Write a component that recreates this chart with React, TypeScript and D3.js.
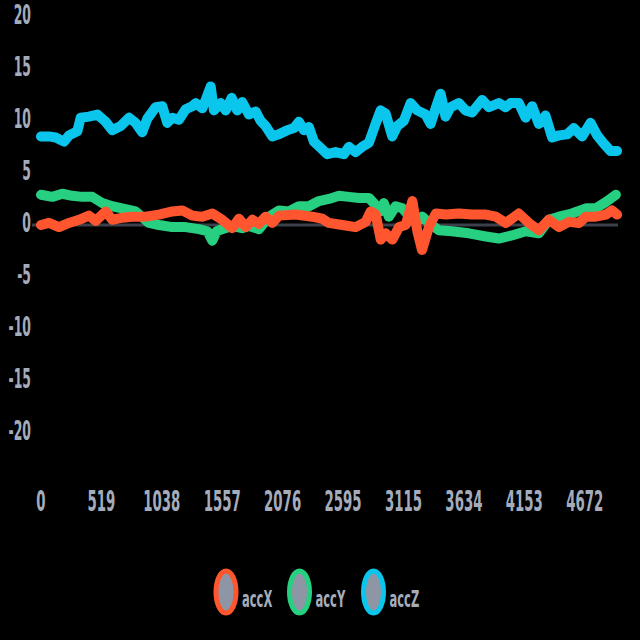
import React from "react";
import * as d3 from "d3";

const xTicks = [0, 519, 1038, 1557, 2076, 2595, 3115, 3634, 4153, 4672];
const yTicks = [20, 15, 10, 5, 0, -5, -10, -15, -20];
const seriesNames = ["accX", "accY", "accZ"];
const seriesColors = ["#ff5630", "#27cf80", "#0bc6ec"];

// [sample index, value]
const accX: [number, number][] = [
  [0, 0.0], [69, 0.2], [155, -0.2], [241, 0.2], [327, 0.5], [412, 0.9], [470, 0.4], [556, 1.3],
  [612, 0.5], [698, 0.7], [784, 0.8], [899, 0.8], [1014, 1.0], [1128, 1.3], [1214, 1.4], [1300, 0.9],
  [1386, 0.8], [1472, 1.1], [1557, 0.5], [1643, -0.3], [1701, 0.6], [1759, -0.2], [1816, 0.5],
  [1873, 0.1], [1930, 0.8], [1987, 0.2], [2045, 0.9], [2188, 1.0], [2331, 0.8], [2417, 0.6],
  [2474, 0.2], [2589, 0.0], [2704, -0.2], [2790, 0.3], [2833, 1.3], [2876, 1.0], [2919, -1.4],
  [2962, -0.8], [3019, -1.4], [3076, -0.2], [3134, 0.0], [3191, 2.3], [3234, -0.6], [3274, -2.4],
  [3333, -0.2], [3393, 1.1], [3479, 1.0], [3591, 1.1], [3703, 1.0], [3823, 1.0], [3909, 0.8],
  [3995, 0.2], [4106, 1.1], [4192, 0.2], [4278, -0.5], [4364, 0.5], [4450, -0.2], [4536, 0.3],
  [4622, 0.2], [4682, 0.8], [4768, 0.8], [4854, 1.0], [4906, 1.4], [4950, 1.0],
];

const accY: [number, number][] = [
  [0, 2.9], [97, 2.7], [183, 3.0], [269, 2.8], [355, 2.7], [441, 2.7], [527, 2.1], [612, 1.8],
  [698, 1.6], [813, 1.3], [928, 0.2], [1014, 0.0], [1128, -0.2], [1243, -0.2], [1357, -0.4],
  [1430, -0.6], [1472, -1.5], [1510, -0.6], [1557, -0.4], [1643, -0.1], [1729, -0.3], [1787, -0.1],
  [1873, -0.4], [1959, 0.8], [2045, 1.4], [2131, 1.3], [2216, 1.8], [2302, 1.8], [2388, 2.3],
  [2474, 2.5], [2560, 2.8], [2646, 2.7], [2732, 2.6], [2818, 2.6], [2875, 1.9], [2918, 1.3],
  [2946, 2.1], [2989, 0.8], [3047, 1.8], [3105, 1.6], [3162, 0.9], [3219, 0.3], [3276, 0.8],
  [3333, 0.2], [3419, -0.5], [3530, -0.6], [3677, -0.8], [3823, -1.1], [3934, -1.3], [4046, -1.0],
  [4166, -0.6], [4278, -0.8], [4364, 0.5], [4450, 0.8], [4561, 1.1], [4682, 1.6], [4768, 1.6],
  [4854, 2.2], [4940, 2.9],
];

const accZ: [number, number][] = [
  [0, 8.5], [69, 8.5], [126, 8.4], [198, 8.0], [241, 8.6], [312, 9.0], [341, 10.3], [412, 10.4],
  [484, 10.6], [556, 9.9], [612, 9.1], [685, 9.5], [756, 10.3], [813, 9.8], [870, 8.9], [913, 10.2],
  [985, 11.3], [1042, 11.4], [1085, 9.8], [1128, 10.3], [1185, 10.1], [1243, 11.1], [1300, 11.4],
  [1329, 11.7], [1386, 11.2], [1415, 12.0], [1458, 13.3], [1486, 11.0], [1544, 11.7], [1587, 11.0],
  [1638, 12.2], [1686, 11.0], [1729, 11.8], [1787, 10.6], [1844, 10.9], [1887, 10.0], [1930, 9.5],
  [1987, 8.5], [2044, 8.7], [2116, 9.1], [2173, 9.3], [2216, 9.9], [2259, 9.1], [2302, 9.4],
  [2345, 8.0], [2403, 7.4], [2459, 6.8], [2531, 7.0], [2603, 6.8], [2646, 7.5], [2703, 7.0],
  [2760, 7.5], [2818, 7.9], [2875, 9.7], [2918, 11.0], [2961, 10.7], [3018, 8.5], [3061, 9.5],
  [3118, 10.0], [3176, 11.7], [3233, 11.0], [3305, 10.6], [3348, 9.7], [3391, 11.2], [3434, 12.6],
  [3476, 10.4], [3519, 11.3], [3591, 11.7], [3648, 11.0], [3705, 10.8], [3791, 12.0], [3848, 11.3],
  [3934, 11.7], [3992, 11.3], [4035, 11.7], [4106, 11.7], [4164, 10.3], [4220, 11.4], [4278, 9.7],
  [4335, 10.5], [4392, 8.4], [4450, 8.6], [4521, 8.7], [4578, 9.3], [4650, 8.5], [4722, 9.8],
  [4779, 8.6], [4836, 7.8], [4894, 7.1], [4950, 7.1],
];

const W = 640;
const H = 640;
const SX = 0.46; // horizontal squeeze of the glyphs

export default function App() {
  const x = d3.scaleLinear().domain([0, 519]).range([41, 101.4]);
  const y = d3.scaleLinear().domain([0, 20]).range([225, 16.6]);
  const line = d3
    .line<[number, number]>()
    .x((d) => x(d[0]))
    .y((d) => y(d[1]))
    .curve(d3.curveLinear);

  const labelColor = "#a4acbb";
  const fontFamily = "'DejaVu Sans', sans-serif";

  const drawOrder: { data: [number, number][]; color: string }[] = [
    { data: accY, color: seriesColors[1] },
    { data: accX, color: seriesColors[0] },
    { data: accZ, color: seriesColors[2] },
  ];

  const legendX = [226, 299.5, 373.5];

  return (
    <svg
      width={W}
      height={H}
      style={{ position: "absolute", left: 0, top: 0, display: "block", background: "#000" }}
    >
      <rect x={0} y={0} width={W} height={H} fill="#000" />
      {/* y labels */}
      {yTicks.map((t) => (
        <text
          key={"y" + t}
          transform={`translate(31,${y(t) + 7}) scale(${SX},1)`}
          textAnchor="end"
          fill={labelColor}
          fontSize={27}
          fontWeight="bold"
          fontFamily={fontFamily}
        >
          {t}
        </text>
      ))}
      {/* zero line */}
      <line x1={32} x2={618} y1={y(0)} y2={y(0)} stroke="#3b404b" strokeWidth={3} />
      {/* x labels */}
      {xTicks.map((t) => (
        <text
          key={"x" + t}
          transform={`translate(${x(t)},511) scale(${SX},1)`}
          textAnchor="middle"
          fill={labelColor}
          fontSize={29}
          fontWeight="bold"
          fontFamily={fontFamily}
        >
          {t}
        </text>
      ))}
      {/* series */}
      {drawOrder.map((s, i) => (
        <path
          key={"s" + i}
          d={line(s.data) || ""}
          fill="none"
          stroke={s.color}
          strokeWidth={10}
          strokeLinejoin="round"
          strokeLinecap="round"
        />
      ))}
      {/* legend */}
      {seriesNames.map((n, i) => (
        <g key={"l" + n}>
          <ellipse
            cx={legendX[i]}
            cy={592}
            rx={10}
            ry={21}
            fill="#8e95a5"
            stroke={seriesColors[i]}
            strokeWidth={5}
          />
          <text
            transform={`translate(${legendX[i] + 16},607) scale(0.5,1)`}
            fill={labelColor}
            fontSize={23}
            fontWeight="bold"
            fontFamily={fontFamily}
          >
            {n}
          </text>
        </g>
      ))}
    </svg>
  );
}
